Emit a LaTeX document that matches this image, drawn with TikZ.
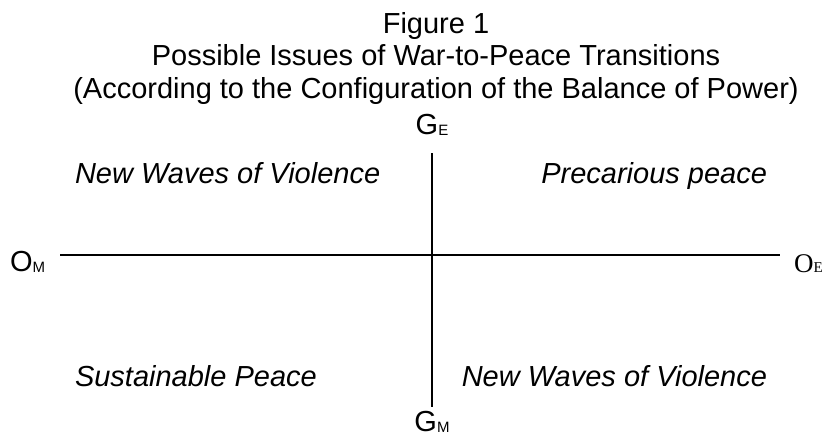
\documentclass[tikz,border=0pt]{standalone}
\usepackage{fontspec}
\setmainfont{Liberation Sans}
\newfontfamily\timesf{Liberation Serif}
\newcommand{\bigtxt}{\fontsize{29}{33}\selectfont}
\newcommand{\subtxt}[1]{\raisebox{-1pt}{\fontsize{15}{15}\selectfont #1}}
\tikzset{
  lbl/.style={inner sep=0pt, outer sep=0pt, font=\bigtxt},
  quad/.style={inner sep=0pt, outer sep=0pt, font=\bigtxt\itshape},
  axis/.style={line width=1.6pt, draw=black}
}
\begin{document}
\begin{tikzpicture}[x=1pt,y=-1pt]
\useasboundingbox (0,0) rectangle (823,437);
% title
\node[lbl, anchor=base] (t1) at (436,33) {Figure 1};
\node[lbl, anchor=base] (t2) at (436,65) {Possible Issues of War-to-Peace Transitions};
\node[lbl, anchor=base] (t3) at (436,98) {(According to the Configuration of the Balance of Power)};
% axis labels
\node[lbl, anchor=base] (ge) at (432,134) {G\subtxt{E}};
\node[lbl, anchor=base] (gm) at (432,431) {G\subtxt{M}};
\node[lbl, anchor=base west] (om) at (10,271) {O\subtxt{M}};
\node[lbl, anchor=base west, font=\timesf\fontsize{27}{27}\selectfont] (oe) at (794,272) {O\raisebox{-0.5pt}{\fontsize{15}{15}\selectfont E}};
% axes
\coordinate (vtop) at (432,153);
\coordinate (vbot) at (432,407);
\coordinate (hl) at (60,255);
\coordinate (hr) at (780,255);
\draw[axis] (vtop) -- (vbot);
\draw[axis] (hl) -- (hr);
% quadrants
\node[quad, anchor=base west] (q1) at (75,183) {New Waves of Violence};
\node[quad, anchor=base east] (q2) at (767,183) {Precarious peace};
\node[quad, anchor=base west] (q3) at (75,386) {Sustainable Peace};
\node[quad, anchor=base east] (q4) at (767,386) {New Waves of Violence};
\end{tikzpicture}
\end{document}
